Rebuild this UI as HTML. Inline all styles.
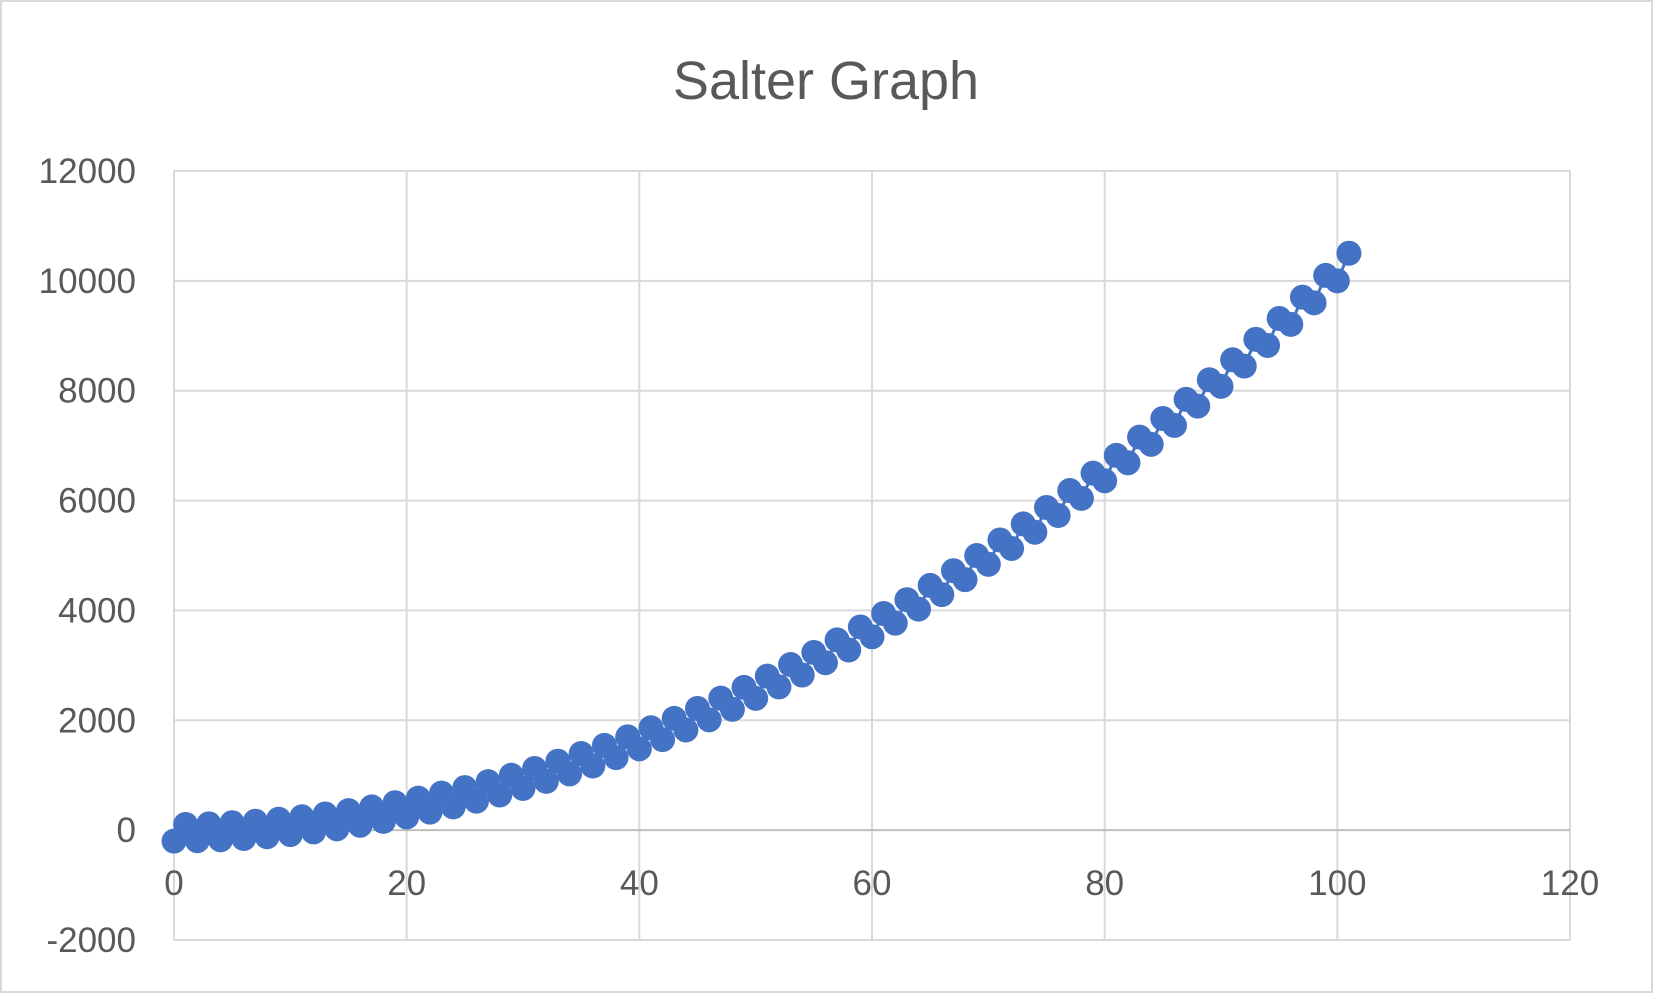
<!DOCTYPE html>
<html><head><meta charset="utf-8"><style>
html,body{margin:0;padding:0;background:#fff;}
svg{display:block;font-family:"Liberation Sans",sans-serif;}
</style></head><body>
<svg id="chart" width="1653" height="993" viewBox="0 0 1653 993">
<rect x="1" y="1" width="1651" height="991" fill="#fff" stroke="#d9d9d9" stroke-width="2"/>
<text x="826" y="99" text-anchor="middle" font-size="54" fill="#595959">Salter Graph</text>
<g id="grid"></g><g id="axes"></g><g id="series"></g>
</svg>
<script>
const xTicks=[0,20,40,60,80,100,120];
const yTicks=[-2000,0,2000,4000,6000,8000,10000,12000];
const xValues=[0,1,2,3,4,5,6,7,8,9,10,11,12,13,14,15,16,17,18,19,20,21,22,23,24,25,26,27,28,29,30,31,32,33,34,35,36,37,38,39,40,41,42,43,44,45,46,47,48,49,50,51,52,53,54,55,56,57,58,59,60,61,62,63,64,65,66,67,68,69,70,71,72,73,74,75,76,77,78,79,80,81,82,83,84,85,86,87,88,89,90,91,92,93,94,95,96,97,98,99,100,101];
const yValues=[-200,103,-192,115,-176,135,-152,163,-120,199,-80,243,-32,295,24,355,88,423,160,499,240,583,328,675,424,775,528,883,640,999,760,1123,888,1255,1024,1395,1168,1543,1320,1699,1480,1863,1648,2035,1824,2215,2008,2403,2200,2599,2400,2803,2608,3015,2824,3235,3048,3463,3280,3699,3520,3943,3768,4195,4024,4455,4288,4723,4560,4999,4840,5283,5128,5575,5424,5875,5728,6183,6040,6499,6360,6823,6688,7155,7024,7495,7368,7843,7720,8199,8080,8563,8448,8935,8824,9315,9208,9703,9600,10099,10000,10503];
const NS='http://www.w3.org/2000/svg';
const X0=174,X1=1570,Y0=940,Y1=171;
const xs=v=>X0+(v-0)/(120-0)*(X1-X0);
const ys=v=>Y0-(v+2000)/(14000)*(Y0-Y1);
function mk(tag,attrs,parent){const e=document.createElementNS(NS,tag);for(const k in attrs)e.setAttribute(k,attrs[k]);parent.appendChild(e);return e;}
const grid=document.getElementById('grid'),axes=document.getElementById('axes'),series=document.getElementById('series');
xTicks.forEach(t=>{
  const l=mk('line',{x1:xs(t),x2:xs(t),y1:Y1,y2:Y0,stroke:'#d9d9d9','stroke-width':2},grid);
  
  
  const tx=mk('text',{x:xs(t),y:ys(0)+65,'text-anchor':'middle','font-size':35,fill:'#595959'},axes);
  tx.textContent=t;
  
  
});
yTicks.forEach(t=>{
  const l=mk('line',{x1:X0,x2:X1,y1:ys(t),y2:ys(t),stroke:t===0?'#bfbfbf':'#d9d9d9','stroke-width':2},grid);
  
  
  const tx=mk('text',{x:136,y:ys(t)+12,'text-anchor':'end','font-size':35,fill:'#595959'},axes);
  tx.textContent=t;
  
  
});
const pts=xValues.map((x,i)=>xs(x)+','+ys(yValues[i])).join(' ');
const pl=mk('polyline',{points:pts,fill:'none',stroke:'#4472c4','stroke-width':3},series);


xValues.forEach((x,i)=>{
  const c=mk('circle',{cx:xs(x),cy:ys(yValues[i]),r:12.5,fill:'#4472c4'},series);
  
  
});
</script>
</body></html>
